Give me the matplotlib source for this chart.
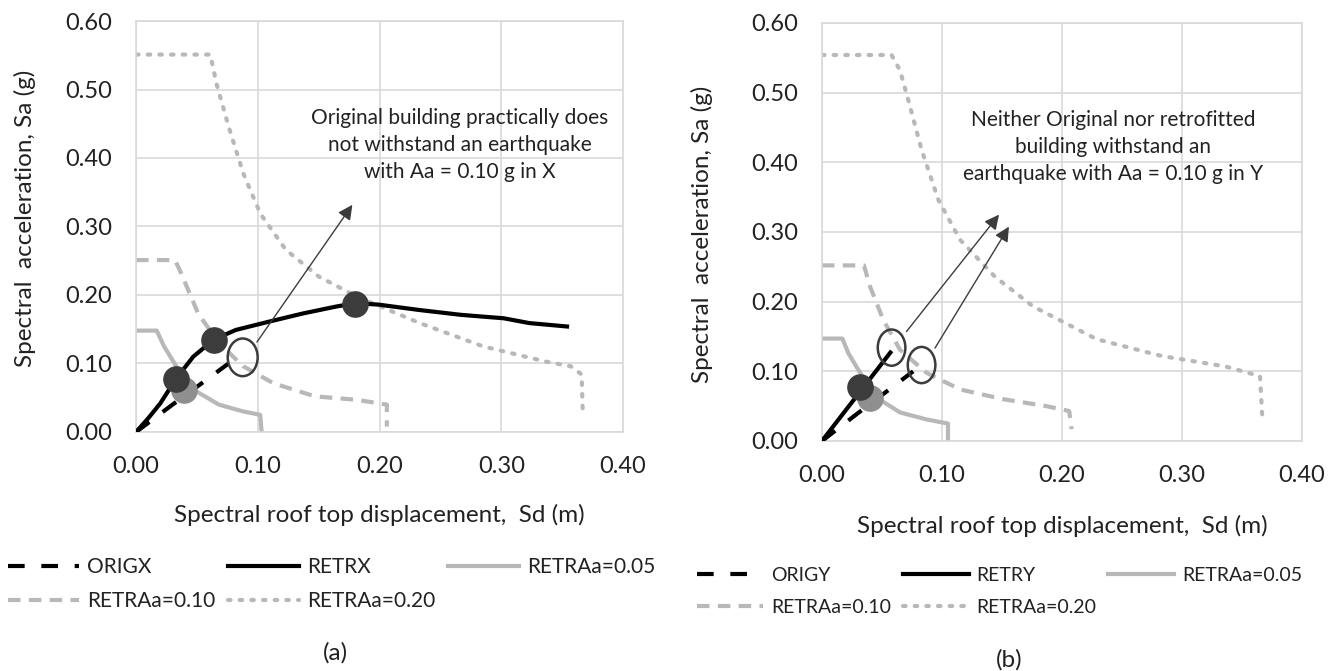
import matplotlib
matplotlib.use("Agg")
import matplotlib.pyplot as plt
from matplotlib.patches import Ellipse

plt.rcParams['font.family'] = ['Lato', 'DejaVu Sans']

# ---- panel (a), direction X ----
retr_x_sd = [0.0, 0.010, 0.020, 0.033, 0.047, 0.064, 0.082, 0.109, 0.137, 0.164, 0.180, 0.199, 0.233, 0.267, 0.302, 0.323, 0.354]
retr_x_sa = [0.0, 0.020, 0.042, 0.078, 0.110, 0.135, 0.149, 0.161, 0.173, 0.183, 0.188, 0.186, 0.178, 0.171, 0.166, 0.159, 0.154]
orig_x_sd = [0.0, 0.030, 0.050, 0.076]
orig_x_sa = [0.0, 0.040, 0.066, 0.100]

a05_x_sd = [0.0, 0.017, 0.023, 0.033, 0.047, 0.068, 0.088, 0.102, 0.103]
a05_x_sa = [0.148, 0.148, 0.125, 0.096, 0.062, 0.040, 0.030, 0.025, 0.003]
a10_x_sd = [0.0, 0.032, 0.037, 0.051, 0.068, 0.088, 0.113, 0.147, 0.181, 0.206, 0.206]
a10_x_sa = [0.251, 0.251, 0.232, 0.173, 0.130, 0.096, 0.071, 0.052, 0.047, 0.040, 0.008]
a20_x_sd = [0.0, 0.061, 0.066, 0.076, 0.088, 0.102, 0.123, 0.150, 0.181, 0.233, 0.285, 0.336, 0.357, 0.366, 0.367]
a20_x_sa = [0.551, 0.551, 0.509, 0.446, 0.378, 0.319, 0.266, 0.227, 0.198, 0.159, 0.125, 0.103, 0.096, 0.084, 0.023]

pts_x_sd = [0.033, 0.064, 0.180]
pts_x_sa = [0.077, 0.135, 0.187]
orig_pt_x = (0.039, 0.061)

# ---- panel (b), direction Y ----
retr_y_sd = [0.0, 0.057]
retr_y_sa = [0.0, 0.127]
orig_y_sd = [0.0, 0.030, 0.050, 0.076]
orig_y_sa = [0.0, 0.040, 0.066, 0.100]

a05_y_sd = [0.0, 0.017, 0.022, 0.030, 0.044, 0.065, 0.087, 0.105, 0.105]
a05_y_sa = [0.147, 0.147, 0.126, 0.103, 0.064, 0.041, 0.031, 0.025, 0.002]
a10_y_sd = [0.0, 0.035, 0.040, 0.051, 0.065, 0.087, 0.115, 0.151, 0.187, 0.206, 0.208]
a10_y_sa = [0.252, 0.252, 0.222, 0.174, 0.131, 0.098, 0.074, 0.060, 0.050, 0.043, 0.017]
a20_y_sd = [0.0, 0.058, 0.065, 0.072, 0.083, 0.097, 0.115, 0.144, 0.176, 0.229, 0.283, 0.336, 0.365, 0.367]
a20_y_sa = [0.554, 0.554, 0.532, 0.489, 0.418, 0.346, 0.289, 0.236, 0.193, 0.146, 0.122, 0.107, 0.093, 0.031]

pts_y = (0.032, 0.078)
orig_pt_y = (0.040, 0.061)

note_a = "Original building practically does\nnot withstand an earthquake\nwith Aa = 0.10 g in X"
note_b = "Neither Original nor retrofitted\nbuilding withstand an\nearthquake with Aa = 0.10 g in Y"

GRID = '#d9d9d9'
LGRAY = '#b8b8b8'
DARK = '#3c3c3c'
MID = '#8f8f8f'
TXT = '#222222'

fig = plt.figure(figsize=(13.35, 6.71), dpi=100)
ax1 = fig.add_axes([0.1019, 0.3562, 0.3648, 0.6125])
ax2 = fig.add_axes([0.6157, 0.3428, 0.3596, 0.6230])


def draw(ax, data, tag):
    orig_sd, orig_sa, retr_sd, retr_sa, a05, a10, a20 = data
    ax.plot(a05[0], a05[1], color=LGRAY, lw=3, label='RETRAa=0.05', zorder=2)
    ax.plot(a10[0], a10[1], color=LGRAY, lw=3, ls=(0, (3, 2)), label='RETRAa=0.10', zorder=2)
    ax.plot(a20[0], a20[1], color=LGRAY, lw=3, ls=(0, (0.6, 2.2)), dash_capstyle='round',
            label='RETRAa=0.20', zorder=2)
    ax.plot(orig_sd, orig_sa, color='black', lw=3, ls=(0, (4, 4)), label='ORIG' + tag, zorder=3)
    ax.plot(retr_sd, retr_sa, color='black', lw=3, label='RETR' + tag, zorder=3)
    ax.set_xlim(0, 0.40)
    ax.set_ylim(0, 0.60)
    ax.set_xticks([0, 0.1, 0.2, 0.3, 0.4])
    ax.set_yticks([0, 0.1, 0.2, 0.3, 0.4, 0.5, 0.6])
    ax.xaxis.set_major_formatter(lambda v, p: f"{v:.2f}")
    ax.yaxis.set_major_formatter(lambda v, p: f"{v:.2f}")
    ax.tick_params(labelsize=17, length=0, colors=TXT)
    ax.tick_params(axis='x', pad=17)
    ax.tick_params(axis='y', pad=17)
    ax.grid(True, color=GRID, lw=1.2)
    ax.set_axisbelow(True)
    for s in ax.spines.values():
        s.set_color(GRID)
        s.set_linewidth(1.2)
    ax.set_xlabel('Spectral roof top displacement,  Sd (m)', fontsize=17.5, color=TXT)
    ax.set_ylabel('Spectral  acceleration, Sa (g)', fontsize=17.5, color=TXT)


draw(ax1, (orig_x_sd, orig_x_sa, retr_x_sd, retr_x_sa,
           (a05_x_sd, a05_x_sa), (a10_x_sd, a10_x_sa), (a20_x_sd, a20_x_sa)), 'X')
draw(ax2, (orig_y_sd, orig_y_sa, retr_y_sd, retr_y_sa,
           (a05_y_sd, a05_y_sa), (a10_y_sd, a10_y_sa), (a20_y_sd, a20_y_sa)), 'Y')

ax1.xaxis.set_label_coords(0.50, -0.175)
ax1.yaxis.set_label_coords(-0.205, 0.52)
ax2.xaxis.set_label_coords(0.50, -0.177)
ax2.yaxis.set_label_coords(-0.226, 0.495)

# performance points
ax1.scatter([orig_pt_x[0]], [orig_pt_x[1]], s=330, color=MID, zorder=4)
ax1.scatter(pts_x_sd, pts_x_sa, s=330, color=DARK, zorder=5)
ax2.scatter([orig_pt_y[0]], [orig_pt_y[1]], s=330, color=MID, zorder=4)
ax2.scatter([pts_y[0]], [pts_y[1]], s=330, color=DARK, zorder=5)

# open ellipses + arrows
arrow = dict(arrowstyle='-|>', color=DARK, lw=1, mutation_scale=22)
ax1.add_patch(Ellipse((0.0876, 0.109), 0.0246, 0.055, fill=False, ec=DARK, lw=1.8, zorder=6))
ax1.annotate('', xy=(0.179, 0.335), xytext=(0.098, 0.128), arrowprops=arrow)
ax1.text(0.266, 0.419, note_a, ha='center', va='center', fontsize=15, linespacing=1.45, color=TXT)

ax2.add_patch(Ellipse((0.058, 0.134), 0.023, 0.052, fill=False, ec=DARK, lw=1.8, zorder=6))
ax2.add_patch(Ellipse((0.083, 0.109), 0.023, 0.052, fill=False, ec=DARK, lw=1.8, zorder=6))
ax2.annotate('', xy=(0.149, 0.328), xytext=(0.069, 0.154), arrowprops=arrow)
ax2.annotate('', xy=(0.157, 0.311), xytext=(0.093, 0.130), arrowprops=arrow)
ax2.text(0.2425, 0.422, note_b, ha='center', va='center', fontsize=15, linespacing=1.45, color=TXT)

# legends: fill order is column-wise, so interleave to get rows
# ORIG RETR A05 / A10 A20
order = [3, 1, 4, 2, 0]
for ax, anchor, fs, lsp in ((ax1, (8 / 1335, 1 - 557 / 671), 15, 0.68),
                            (ax2, (697 / 1335, 1 - 567 / 671), 14, 0.75)):
    h, l = ax.get_legend_handles_labels()
    fig.legend([h[i] for i in order], [l[i] for i in order], loc='upper left',
               bbox_to_anchor=anchor, ncol=3, frameon=False, fontsize=fs,
               handlelength=3.4, columnspacing=0.6, handletextpad=0.4, labelspacing=lsp,
               borderpad=0, borderaxespad=0, labelcolor=TXT)

fig.text(335 / 1335, 1 - 653 / 671, '(a)', ha='center', va='center', fontsize=17.5, color=TXT)
fig.text(1009 / 1335, 1 - 660 / 671, '(b)', ha='center', va='center', fontsize=17.5, color=TXT)

fig.savefig('out.png', dpi=100)
